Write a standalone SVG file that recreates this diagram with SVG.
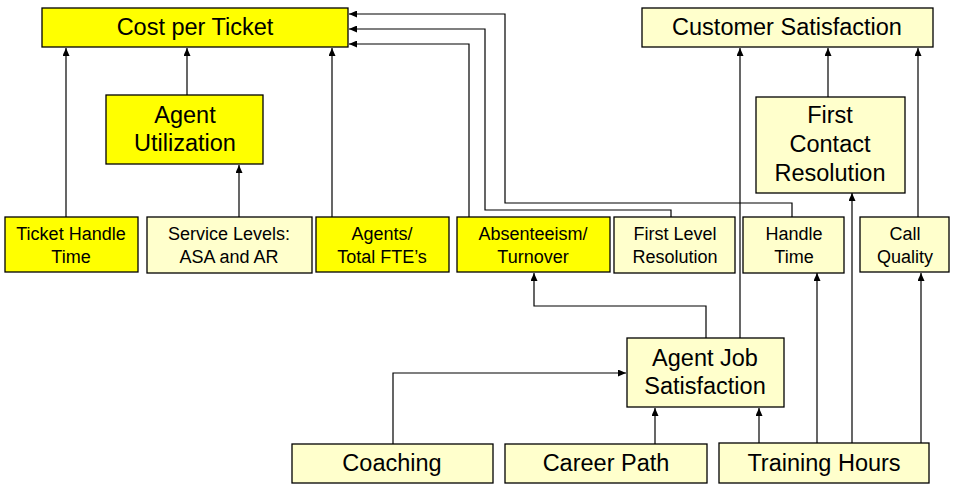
<svg xmlns="http://www.w3.org/2000/svg" width="953" height="494" viewBox="0 0 953 494">
<defs>
<marker id="arr" markerWidth="8" markerHeight="7" refX="8" refY="3.5" orient="auto" markerUnits="userSpaceOnUse">
<path d="M0,0 L8,3.5 L0,7 z" fill="#000"/>
</marker>
<style>
.y{fill:#FFFF00;stroke:#000;stroke-width:1.3}
.l{fill:#FFFFCC;stroke:#000;stroke-width:1.3}
text{font-family:"Liberation Sans",Arial,sans-serif;fill:#000;text-anchor:middle}
.big{font-size:23.5px}
.sm{font-size:18px}
.c{fill:none;stroke:#000;stroke-width:1.2;marker-end:url(#arr)}
</style>
</defs>
<rect width="953" height="494" fill="#fff"/>
<g id="connectors">
<path class="c" d="M187,95 V48"/>
<path class="c" d="M66,217 V48"/>
<path class="c" d="M239,217 V165"/>
<path class="c" d="M332,217 V48"/>
<path class="c" d="M469,217 V44 H349"/>
<path class="c" d="M671,217 V210 H485 V29 H349"/>
<path class="c" d="M792,217 V203 H505 V14 H349"/>
<path class="c" d="M740,338 V48"/>
<path class="c" d="M828,97 V48"/>
<path class="c" d="M918,217 V48"/>
<path class="c" d="M706,338 V306 H534 V273"/>
<path class="c" d="M393,444 V373 H626"/>
<path class="c" d="M655,444 V408"/>
<path class="c" d="M759,443 V408"/>
<path class="c" d="M817,443 V273"/>
<path class="c" d="M852,443 V193"/>
<path class="c" d="M921,443 V273"/>
</g>
<g id="cost-per-ticket"><rect class="y" x="42" y="8" width="306" height="39"/><text class="big" x="195" y="35">Cost per Ticket</text></g>
<g id="customer-satisfaction"><rect class="l" x="642" y="8" width="291" height="39"/><text class="big" x="787" y="35">Customer Satisfaction</text></g>
<g id="agent-utilization"><rect class="y" x="106" y="95" width="157" height="69"/><text class="big" x="185" y="123">Agent</text><text class="big" x="185" y="151">Utilization</text></g>
<g id="first-contact-resolution"><rect class="l" x="756" y="97" width="149" height="96"/><text class="big" x="830" y="123">First</text><text class="big" x="830" y="152">Contact</text><text class="big" x="830" y="181">Resolution</text></g>
<g id="ticket-handle-time"><rect class="y" x="5" y="217" width="133" height="55"/><text class="sm" x="71" y="240">Ticket Handle</text><text class="sm" x="71" y="263">Time</text></g>
<g id="service-levels"><rect class="l" x="147" y="217" width="165" height="56"/><text class="sm" x="229" y="240">Service Levels:</text><text class="sm" x="229" y="263">ASA and AR</text></g>
<g id="agents-total-ftes"><rect class="y" x="316" y="217" width="133" height="55"/><text class="sm" x="382" y="240">Agents/</text><text class="sm" x="382" y="263">Total FTE’s</text></g>
<g id="absenteeism-turnover"><rect class="y" x="457" y="217" width="153" height="55"/><text class="sm" x="533" y="240">Absenteeism/</text><text class="sm" x="533" y="263">Turnover</text></g>
<g id="first-level-resolution"><rect class="l" x="614" y="217" width="121" height="56"/><text class="sm" x="675" y="240">First Level</text><text class="sm" x="675" y="263">Resolution</text></g>
<g id="handle-time"><rect class="l" x="743" y="217" width="101" height="56"/><text class="sm" x="794" y="240">Handle</text><text class="sm" x="794" y="263">Time</text></g>
<g id="call-quality"><rect class="l" x="860" y="217" width="89" height="55"/><text class="sm" x="905" y="240">Call</text><text class="sm" x="905" y="263">Quality</text></g>
<g id="agent-job-satisfaction"><rect class="l" x="627" y="338" width="157" height="69"/><text class="big" x="705" y="366">Agent Job</text><text class="big" x="705" y="394">Satisfaction</text></g>
<g id="coaching"><rect class="l" x="292" y="444" width="201" height="39"/><text class="big" x="392" y="471">Coaching</text></g>
<g id="career-path"><rect class="l" x="505" y="444" width="202" height="39"/><text class="big" x="606" y="471">Career Path</text></g>
<g id="training-hours"><rect class="l" x="719" y="443" width="210" height="40"/><text class="big" x="824" y="471">Training Hours</text></g>
</svg>
